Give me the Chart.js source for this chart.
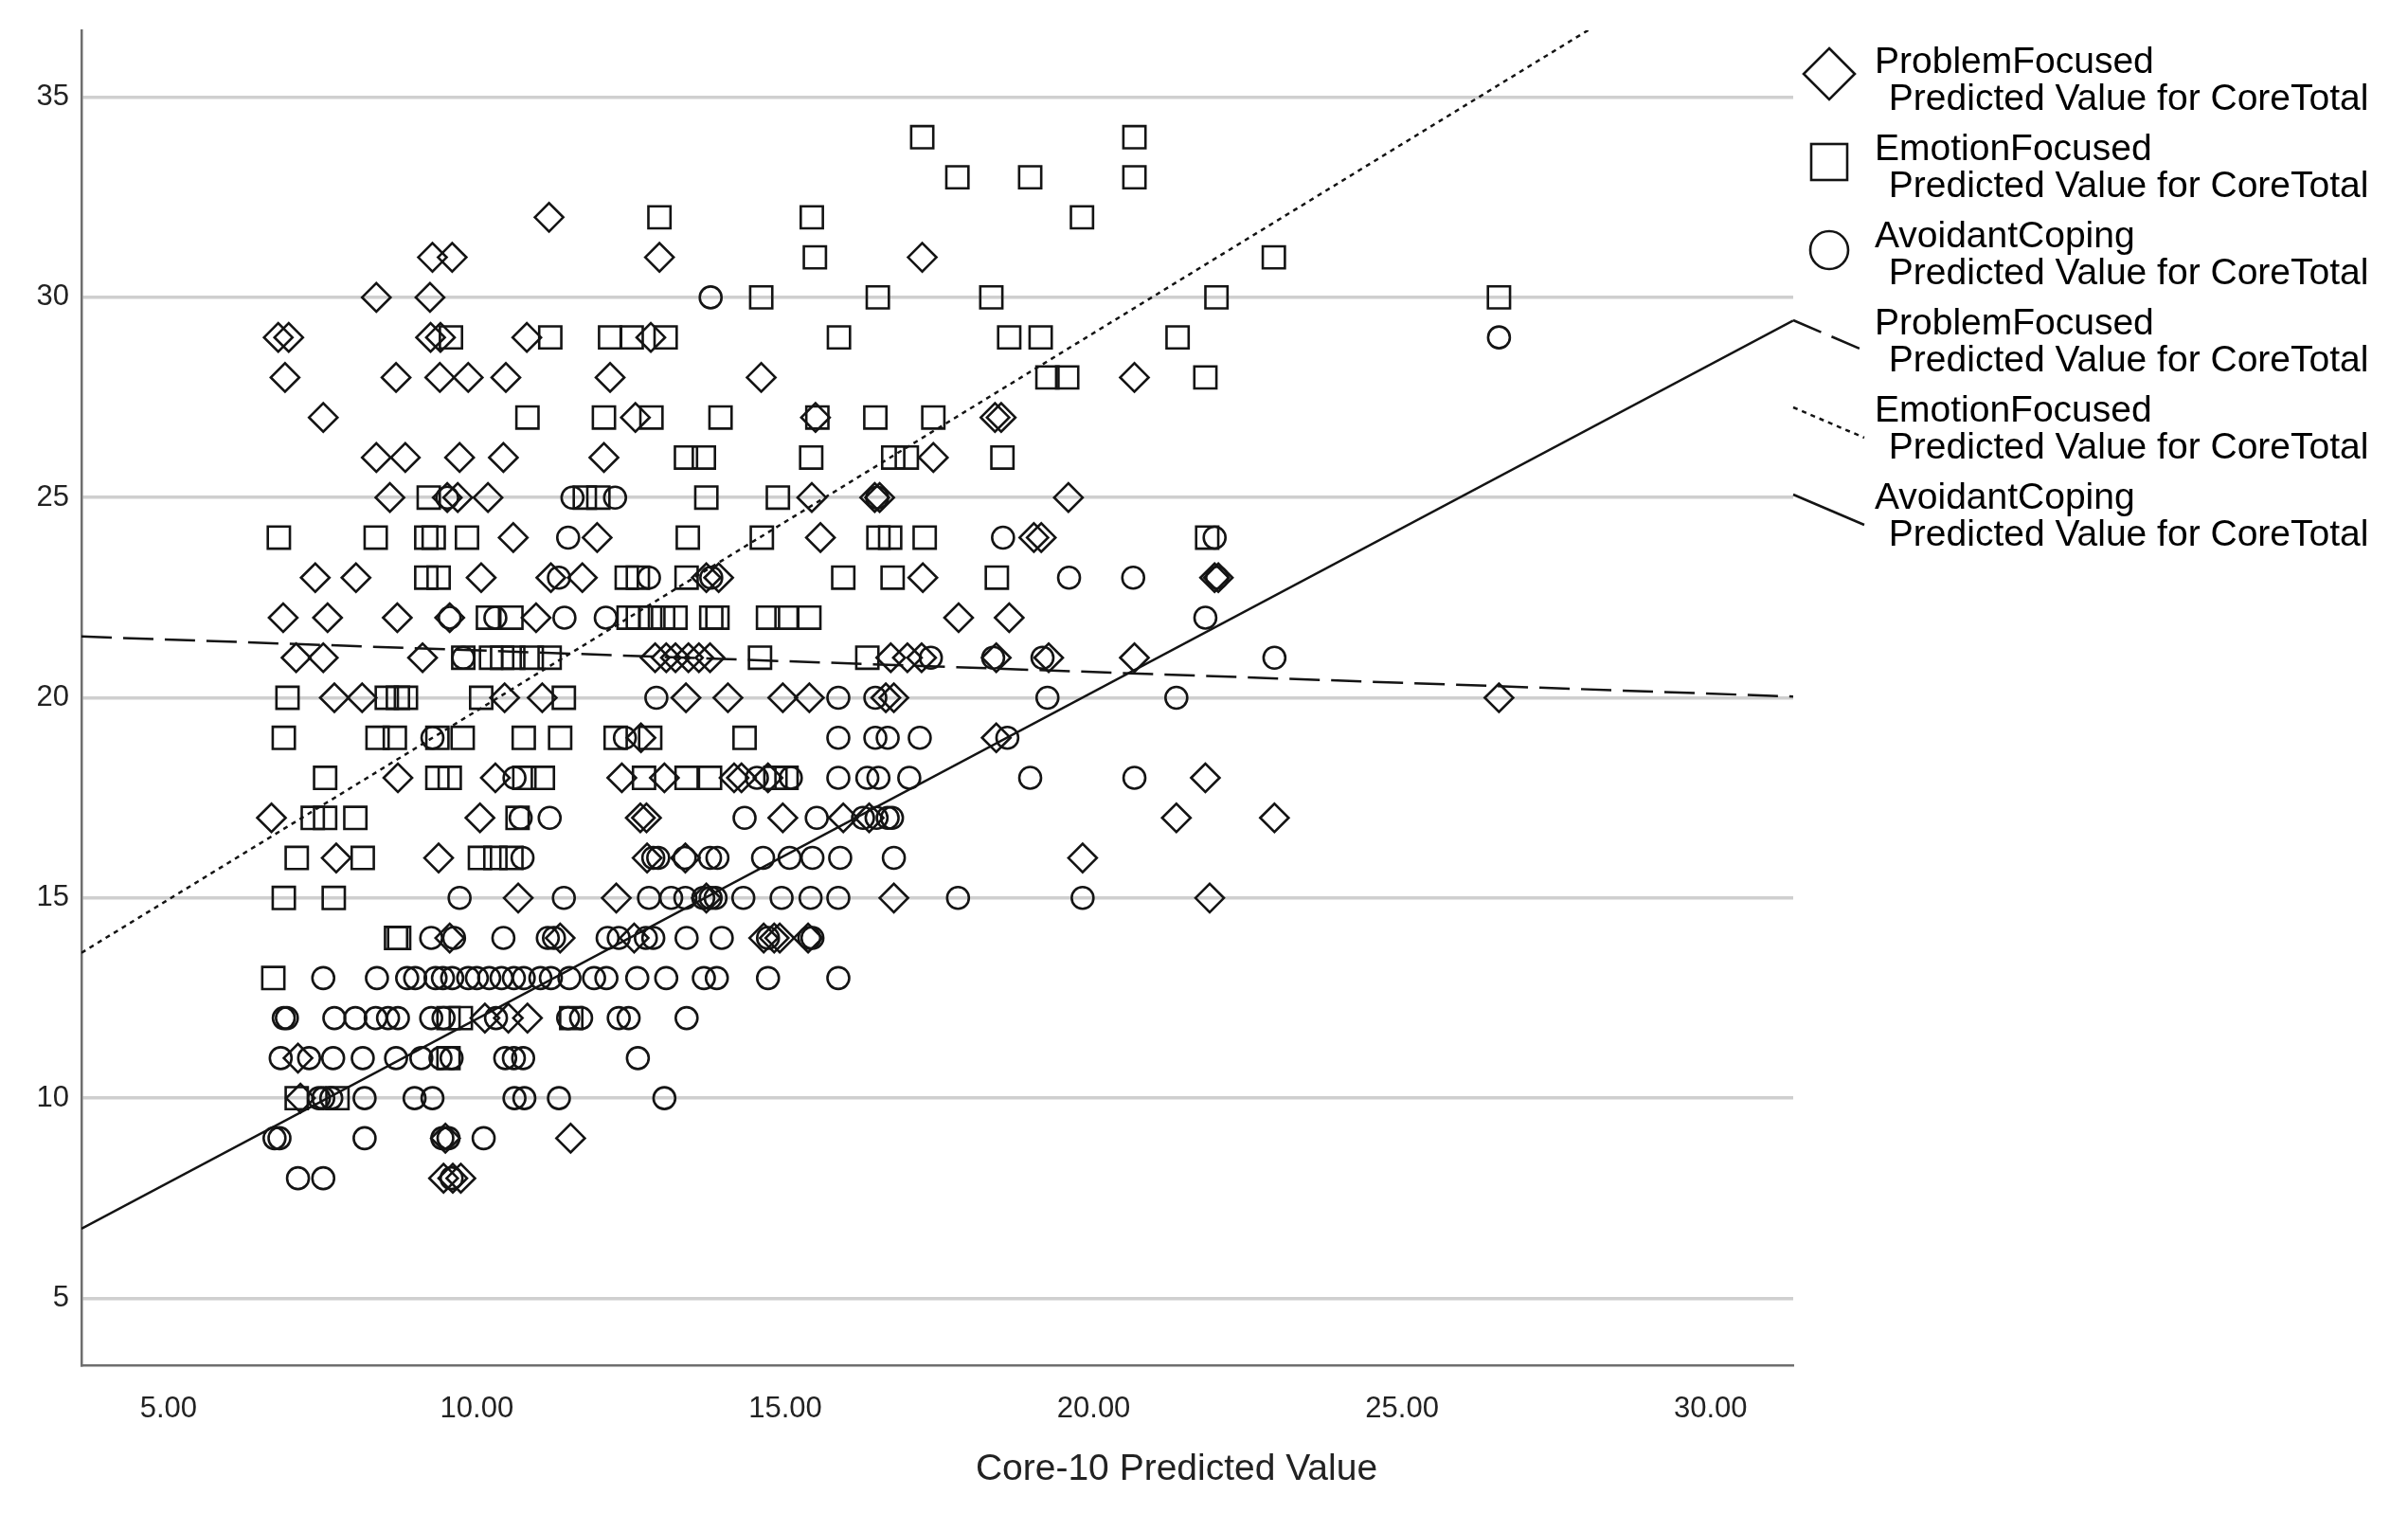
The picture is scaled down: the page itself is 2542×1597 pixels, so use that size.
<!DOCTYPE html>
<html>
<head>
<meta charset="utf-8">
<title>Core-10 Predicted Value</title>
<script src="https://cdn.jsdelivr.net/npm/chart.js@4.4.1/dist/chart.umd.min.js"></script>
<style>
  html, body { margin: 0; padding: 0; background: #fff; }
  #wrap { width: 2542px; height: 1597px; }
</style>
</head>
<body>
<div id="wrap"><canvas id="chart" width="2542" height="1597"></canvas></div>
<script>
// axis ticks
const xTicks = [5, 10, 15, 20, 25, 30];
const yTicks = [5, 10, 15, 20, 25, 30, 35];
const xTitle = 'Core-10 Predicted Value';
const seriesNames = ['ProblemFocused', 'EmotionFocused', 'AvoidantCoping'];
const subLabel = ' Predicted Value for CoreTotal';

// scatter points [predicted, coretotal]
const problemFocused = [
    [11.17,32],
    [9.28,31],[9.60,31],[12.96,31],[17.22,31],
    [8.37,30],[9.24,30],
    [6.78,29],[6.95,29],[9.25,29],[9.41,29],[10.81,29],[12.82,29],
    [6.89,28],[8.69,28],[9.40,28],[9.86,28],[10.47,28],[12.16,28],[14.61,28],[20.66,28],
    [7.51,27],[12.57,27],[15.49,27],[18.40,27],[18.50,27],
    [8.37,26],[8.84,26],[9.72,26],[10.43,26],[12.06,26],[17.40,26],
    [8.59,25],[9.52,25],[9.69,25],[10.18,25],[15.43,25],[16.45,25],[16.53,25],[19.59,25],
    [10.59,24],[11.95,24],[15.57,24],[19.03,24],[19.15,24],
    [7.38,23],[8.04,23],[10.07,23],[11.20,23],[11.71,23],[13.72,23],[13.92,23],[17.23,23],[21.96,23],[22.02,23],
    [6.86,22],[7.58,22],[8.71,22],[9.56,22],[10.96,22],[17.81,22],[18.63,22],
    [7.07,21],[7.51,21],[9.12,21],[12.89,21],[13.07,21],[13.22,21],[13.43,21],[13.60,21],[13.78,21],
    [16.71,21],[16.98,21],[17.21,21],[18.42,21],[19.27,21],[20.66,21],
    [7.69,20],[8.14,20],[10.45,20],[11.06,20],[13.39,20],[14.07,20],[14.96,20],[15.39,20],[16.63,20],[16.76,20],[26.57,20],
    [12.66,19],[18.42,19],
    [8.72,18],[10.30,18],[12.35,18],[13.04,18],[14.17,18],[14.29,18],[14.72,18],[21.81,18],
    [6.67,17],[10.05,17],[12.65,17],[12.75,17],[14.96,17],[15.94,17],[16.36,17],[21.34,17],[22.93,17],
    [7.72,16],[9.38,16],[12.76,16],[13.38,16],[19.82,16],
    [10.67,15],[12.26,15],[13.72,15],[16.76,15],[21.88,15],
    [9.56,14],[11.35,14],[12.55,14],[14.65,14],[14.82,14],[14.91,14],[15.37,14],
    [10.13,12],[10.51,12],[10.82,12],
    [7.10,11],
    [7.14,10],
    [9.49,9],[11.52,9],
    [9.46,8],[9.61,8],[9.74,8]
];

const emotionFocused = [
    [17.22,34],[20.66,34],
    [17.79,33],[18.97,33],[20.66,33],
    [12.96,32],[15.43,32],[19.81,32],
    [15.48,31],[22.92,31],
    [14.61,30],[16.50,30],[18.34,30],[21.99,30],[26.57,30],
    [9.58,29],[11.19,29],[12.16,29],[12.51,29],[13.06,29],[15.87,29],[18.63,29],[19.14,29],[21.36,29],
    [19.25,28],[19.57,28],[21.81,28],
    [10.82,27],[12.06,27],[12.83,27],[13.95,27],[15.52,27],[16.46,27],[17.40,27],
    [13.39,26],[13.68,26],[15.42,26],[16.75,26],[16.97,26],[18.52,26],
    [9.22,25],[11.75,25],[11.97,25],[13.72,25],[14.88,25],
    [6.79,24],[8.36,24],[9.18,24],[9.30,24],[9.84,24],[13.42,24],[14.62,24],[16.51,24],[16.70,24],[17.26,24],[21.84,24],
    [9.18,23],[9.38,23],[12.43,23],[12.61,23],[13.40,23],[15.94,23],[16.74,23],[18.43,23],
    [10.18,22],[10.56,22],[12.46,22],[12.61,22],[12.81,22],[13.02,22],[13.22,22],[13.80,22],[13.90,22],[14.72,22],[15.02,22],[15.39,22],
    [9.78,21],[10.23,21],[10.41,21],[10.59,21],[10.89,21],[11.18,21],[14.59,21],[16.33,21],
    [6.93,20],[8.54,20],[8.72,20],[8.85,20],[10.07,20],[11.41,20],
    [6.87,19],[8.39,19],[8.67,19],[9.36,19],[9.77,19],[10.76,19],[11.35,19],[12.25,19],[12.81,19],[14.34,19],
    [7.54,18],[9.36,18],[9.56,18],[10.77,18],[11.07,18],[12.71,18],[13.40,18],[13.78,18],[14.84,18],[15.02,18],
    [7.34,17],[7.54,17],[8.03,17],[10.66,17],
    [7.08,16],[8.15,16],[10.05,16],[10.30,16],[10.56,16],
    [6.87,15],[7.68,15],
    [8.69,14],[8.74,14],
    [6.70,13],
    [9.54,12],[9.74,12],[11.53,12],
    [9.54,11],
    [7.08,10],[7.74,10]
];

const avoidantCoping = [
    [13.79,30],
    [26.57,29],
    [9.52,25],[11.55,25],[12.24,25],[16.49,25],
    [11.48,24],[18.53,24],[21.96,24],
    [11.33,23],[12.79,23],[13.80,23],[19.60,23],[20.64,23],[22.00,23],
    [9.56,22],[10.30,22],[11.42,22],[12.09,22],[21.81,22],
    [9.78,21],[17.36,21],[18.37,21],[19.17,21],[22.93,21],
    [12.91,20],[15.86,20],[16.46,20],[19.25,20],[21.34,20],
    [9.28,19],[12.40,19],[15.86,19],[16.46,19],[16.66,19],[17.18,19],[18.60,19],
    [10.61,18],[14.54,18],[15.09,18],[15.86,18],[16.33,18],[16.51,18],[17.01,18],[18.97,18],[20.66,18],
    [10.71,17],[11.18,17],[14.34,17],[15.51,17],[16.26,17],[16.48,17],[16.66,17],[16.73,17],
    [10.74,16],[12.86,16],[12.94,16],[13.37,16],[13.78,16],[13.90,16],[14.64,16],[15.07,16],[15.44,16],[15.89,16],[16.76,16],
    [9.72,15],[11.41,15],[12.79,15],[13.15,15],[13.38,15],[13.67,15],[13.79,15],[13.87,15],[14.32,15],[14.94,15],[15.41,15],[15.86,15],[17.80,15],[19.82,15],
    [9.26,14],[9.63,14],[10.43,14],[11.15,14],[11.25,14],[12.12,14],[12.30,14],[12.74,14],[12.86,14],[13.40,14],[13.97,14],[14.72,14],[15.39,14],[15.44,14],
    [7.51,13],[8.38,13],[8.87,13],[9.00,13],[9.33,13],[9.45,13],[9.60,13],[9.86,13],[10.00,13],[10.20,13],[10.40,13],[10.60,13],
    [10.76,13],[11.03,13],[11.20,13],[11.50,13],[11.90,13],[12.10,13],[12.60,13],[13.07,13],[13.68,13],[13.89,13],[14.72,13],[15.86,13],
    [6.87,12],[6.92,12],[7.69,12],[8.03,12],[8.36,12],[8.56,12],[8.72,12],[9.26,12],[9.46,12],[10.31,12],[11.48,12],[11.69,12],[12.30,12],[12.46,12],[13.40,12],
    [6.82,11],[7.28,11],[7.67,11],[8.15,11],[8.69,11],[9.10,11],[9.41,11],[9.59,11],[10.46,11],[10.60,11],[10.75,11],[12.61,11],
    [7.44,10],[7.51,10],[7.64,10],[8.18,10],[8.99,10],[9.28,10],[10.61,10],[10.77,10],[11.33,10],[13.04,10],
    [6.72,9],[6.80,9],[8.18,9],[9.44,9],[9.54,9],[10.11,9],
    [7.10,8],[7.51,8],[9.59,8]
];

// fitted lines: value at left and right edge of the plot
const xRange = [3.59, 31.34];
const yRange = [3.33, 36.67];
const problemFit = [21.53, 20.03];
const emotionFit = [13.63, 39.81];
const avoidantFit = [6.74, 29.42];

const FONT = "'Liberation Sans', Arial, sans-serif";
const INK = '#141414';

function toPoints(list) {
    return list.map(p => ({ x: p[0], y: p[1] }));
}
function fitLine(ends) {
    return [{ x: xRange[0], y: ends[0] }, { x: xRange[1], y: ends[1] }];
}

function markerDataset(label, list, style, radius) {
    return {
        type: 'scatter',
        label: label,
        data: toPoints(list),
        pointStyle: style,
        pointRadius: radius,
        pointHoverRadius: radius,
        pointBorderWidth: 2.6,
        borderColor: INK,
        backgroundColor: 'rgba(0,0,0,0)',
        showLine: false
    };
}

function lineDataset(label, ends, dash) {
    return {
        type: 'line',
        label: label,
        data: fitLine(ends),
        borderColor: INK,
        borderWidth: 2.5,
        borderDash: dash,
        pointRadius: 0,
        fill: false,
        tension: 0
    };
}

// legend and x title drawn by hand to follow the original layout
const legendPlugin = {
    id: 'spssLegend',
    afterDraw(chart) {
        const ctx = chart.ctx;
        ctx.save();
        ctx.fillStyle = '#000';
        ctx.font = '39px ' + FONT;
        ctx.textAlign = 'left';
        ctx.textBaseline = 'alphabetic';

        const names = seriesNames.concat(seriesNames);
        names.forEach((name, i) => {
            const base = 77 + 92 * i;
            ctx.fillText(name, 1979, base);
            ctx.fillText(subLabel, 1983, base + 39);
        });

        // marker symbols
        ctx.strokeStyle = INK;
        ctx.lineWidth = 2.6;
        let cy = 77 + 1;
        ctx.beginPath();
        ctx.moveTo(1931, cy - 27); ctx.lineTo(1958, cy); ctx.lineTo(1931, cy + 27); ctx.lineTo(1904, cy);
        ctx.closePath();
        ctx.stroke();

        cy = 169 + 2;
        ctx.strokeRect(1912, cy - 19, 38, 38);

        cy = 261 + 3;
        ctx.beginPath();
        ctx.arc(1931, cy, 20, 0, Math.PI * 2);
        ctx.stroke();

        // line symbols
        const dashes = [[32, 12], [5, 5], []];
        ctx.lineWidth = 2.5;
        dashes.forEach((d, k) => {
            const base = 77 + 92 * (3 + k);
            ctx.setLineDash(d);
            ctx.beginPath();
            ctx.moveTo(1893, base - 15);
            ctx.lineTo(1968, base + 17);
            ctx.stroke();
        });
        ctx.setLineDash([]);

        // x axis title
        ctx.font = '39px ' + FONT;
        ctx.fillStyle = '#222';
        ctx.textAlign = 'center';
        ctx.textBaseline = 'middle';
        ctx.fillText(xTitle, 1242, 1551);
        ctx.restore();
    }
};

const ctx = document.getElementById('chart').getContext('2d');
new Chart(ctx, {
    data: {
        datasets: [
            markerDataset(seriesNames[0], problemFocused, 'rectRot', 15),
            markerDataset(seriesNames[1], emotionFocused, 'rect', 16.5),
            markerDataset(seriesNames[2], avoidantCoping, 'circle', 11.5),
            lineDataset(seriesNames[0], problemFit, [32, 12]),
            lineDataset(seriesNames[1], emotionFit, [5, 5]),
            lineDataset(seriesNames[2], avoidantFit, [])
        ]
    },
    options: {
        responsive: false,
        animation: false,
        devicePixelRatio: 1,
        layout: { padding: { left: 0, top: 32, right: 649, bottom: 0 } },
        plugins: {
            legend: { display: false },
            tooltip: { enabled: false },
            title: { display: false }
        },
        events: [],
        scales: {
            x: {
                type: 'linear',
                min: xRange[0],
                max: xRange[1],
                afterFit(scale) { scale.height = 156; },
                afterBuildTicks(scale) { scale.ticks = xTicks.map(v => ({ value: v })); },
                grid: { display: false },
                border: { display: true, color: '#6e6e6e', width: 2.5 },
                ticks: {
                    padding: 20,
                    color: '#222',
                    font: { family: FONT, size: 31 },
                    maxRotation: 0,
                    callback: v => v.toFixed(2)
                }
            },
            y: {
                type: 'linear',
                min: yRange[0],
                max: yRange[1],
                afterFit(scale) { scale.width = 86; },
                afterBuildTicks(scale) { scale.ticks = yTicks.map(v => ({ value: v })); },
                grid: { color: '#cfcfcf', lineWidth: 3.5, drawTicks: false },
                border: { display: true, color: '#6e6e6e', width: 2.5 },
                ticks: {
                    padding: 13,
                    color: '#222',
                    font: { family: FONT, size: 31 },
                    callback: v => String(v)
                }
            }
        }
    },
    plugins: [legendPlugin]
});
</script>
</body>
</html>
